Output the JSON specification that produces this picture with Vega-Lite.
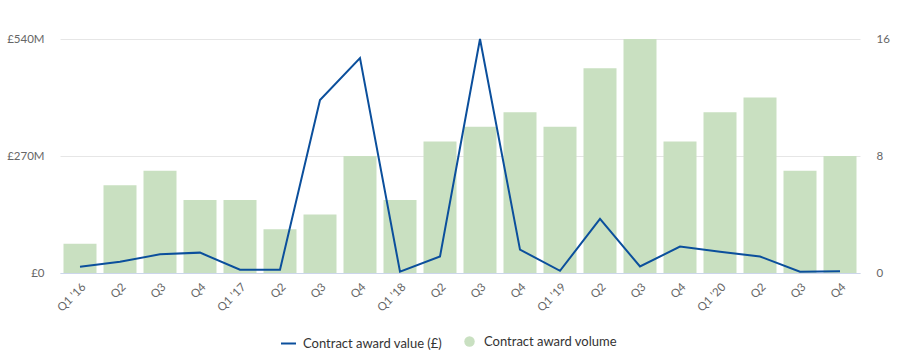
{
  "$schema": "https://vega.github.io/schema/vega-lite/v6.json",
  "width": 800,
  "height": 234,
  "autosize": "none",
  "padding": {"left": 60, "top": 39, "right": 44, "bottom": 90},
  "config": {
    "view": {"stroke": null},
    "font": "Lato",
    "axis": {"labelColor": "#666666", "labelFontSize": 11.5, "ticks": false, "title": null, "labelFont": "Lato"},
    "legend": {"labelFont": "Lato", "labelFontSize": 13, "labelColor": "#333333"}
  },
  "data": {
    "values": [
      {"quarter": "Q1 '16", "value": 14.6, "volume": 2},
      {"quarter": "Q2 '16", "value": 26, "volume": 6},
      {"quarter": "Q3 '16", "value": 43, "volume": 7},
      {"quarter": "Q4 '16", "value": 47, "volume": 5},
      {"quarter": "Q1 '17", "value": 7.7, "volume": 5},
      {"quarter": "Q2 '17", "value": 7.7, "volume": 3},
      {"quarter": "Q3 '17", "value": 399, "volume": 4},
      {"quarter": "Q4 '17", "value": 496, "volume": 8},
      {"quarter": "Q1 '18", "value": 3, "volume": 5},
      {"quarter": "Q2 '18", "value": 38, "volume": 9},
      {"quarter": "Q3 '18", "value": 540, "volume": 10},
      {"quarter": "Q4 '18", "value": 54, "volume": 11},
      {"quarter": "Q1 '19", "value": 5, "volume": 10},
      {"quarter": "Q2 '19", "value": 125, "volume": 14},
      {"quarter": "Q3 '19", "value": 15, "volume": 16},
      {"quarter": "Q4 '19", "value": 61, "volume": 9},
      {"quarter": "Q1 '20", "value": 49, "volume": 11},
      {"quarter": "Q2 '20", "value": 38, "volume": 12},
      {"quarter": "Q3 '20", "value": 3, "volume": 7},
      {"quarter": "Q4 '20", "value": 4, "volume": 8}
    ]
  },
  "encoding": {
    "x": {
      "field": "quarter",
      "type": "ordinal",
      "sort": null,
      "scale": {"paddingInner": 0.175, "paddingOuter": 0.0875},
      "axis": {
        "labelAngle": -45,
        "labelPadding": 8,
        "domainColor": "#ccd6eb",
        "labelExpr": "slice(datum.value, 0, 2) == 'Q1' ? datum.value : slice(datum.value, 0, 2)"
      }
    }
  },
  "layer": [
    {
      "mark": {"type": "bar"},
      "encoding": {
        "y": {
          "field": "volume",
          "type": "quantitative",
          "scale": {"domain": [0, 16]},
          "axis": {"orient": "right", "values": [0, 8, 16], "grid": false, "domain": false, "labelPadding": 16}
        },
        "fill": {
          "datum": "Contract award volume",
          "scale": {"range": ["#c9e0c1"]},
          "legend": {"orient": "none", "legendX": 403, "legendY": 296, "symbolType": "circle", "symbolSize": 110, "symbolOpacity": 1, "labelOffset": 8, "title": null}
        }
      }
    },
    {
      "mark": {"type": "line", "strokeWidth": 2},
      "encoding": {
        "y": {
          "field": "value",
          "type": "quantitative",
          "scale": {"domain": [0, 540]},
          "axis": {"orient": "left", "values": [0, 270, 540], "grid": true, "gridColor": "#e6e6e6", "domain": false, "labelPadding": 16,
            "labelExpr": "datum.value == 0 ? '£0' : '£' + datum.value + 'M'"}
        },
        "stroke": {
          "datum": "Contract award value (£)",
          "scale": {"range": ["#0b4f9c"]},
          "legend": {"orient": "none", "legendX": 220, "legendY": 296, "symbolType": "stroke", "symbolSize": 225, "symbolStrokeWidth": 2, "labelOffset": 6, "title": null}
        }
      }
    }
  ],
  "resolve": {"scale": {"y": "independent"}}
}
